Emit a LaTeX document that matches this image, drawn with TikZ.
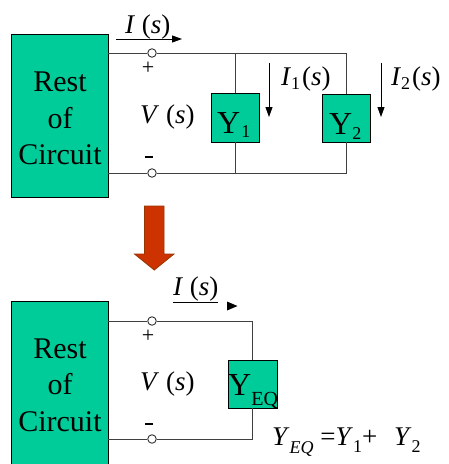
\documentclass[tikz,border=0pt]{standalone}
\usepackage{fontspec}
\setmainfont{Liberation Serif}
\usetikzlibrary{arrows.meta, shapes, positioning}

\definecolor{boxgreen}{HTML}{00CC99}
\definecolor{bigred}{HTML}{CC3300}
\definecolor{bigredline}{HTML}{993300}

\newcommand{\subidx}[2][4pt]{\raisebox{-#1}{\fontsize{18}{18}\selectfont #2}}

\tikzset{
  block/.style={draw, fill=boxgreen, line width=0.9pt, inner sep=0pt},
  wire/.style={draw=black!75, line width=0.9pt},
  terminal/.style={circle, draw=black!80, fill=white, line width=0.9pt, inner sep=0pt, minimum size=8.5pt},
  currarrow/.style={-{Triangle[length=10pt,width=7pt]}, line width=0.9pt},
  restfont/.style={font=\fontsize{30}{36.5}\selectfont, align=center, inner sep=0pt},
  labelfont/.style={font=\fontsize{27}{30}\selectfont, anchor=base west, inner sep=0pt},
  boxfont/.style={font=\fontsize{32}{34}\selectfont, anchor=base west, inner sep=0pt},
  signfont/.style={font=\fontsize{22}{22}\selectfont, inner sep=0pt}
}

\begin{document}
\begin{tikzpicture}[x=1pt, y=-1pt]
            \useasboundingbox (0,0) rectangle (448,464);

            % Top circuit: nodes
            \node (rest1) [block, minimum width=97pt, minimum height=163pt] at (59.5,115.5) {};
            \node (rest1text) [restfont] at (60,118.5) {Rest\\of\\Circuit};
            \node (tp1) [terminal] at (152,53) {};
            \node (tm1) [terminal] at (152,173) {};
            \node (y1) [block, minimum width=48pt, minimum height=49pt] at (235,117.5) {};
            \node (y2) [block, minimum width=48pt, minimum height=48pt] at (346.5,118) {};
            \node (y1text) [boxfont] at (217,133) {Y\hspace{1pt}\subidx{1}};
            \node (y2text) [boxfont] at (329,134) {Y\subidx[5pt]{2}};
            \node (plus1) [signfont] at (148,68) {+};
            \node (minus1) [signfont] at (149,157) {\rule{8pt}{2pt}};
            \node (v1) [labelfont] at (140,123) {\textit{V} (\textit{s})};
            \node (i0) [labelfont] at (125,33) {\textit{I} (\textit{s})};
            \node (i1) [labelfont] at (281,85) {\textit{I}\subidx{1}\hspace{2pt}(\textit{s})};
            \node (i2) [labelfont] at (391,85) {\textit{I}\subidx{2}\hspace{2pt}(\textit{s})};

            % Current arrows
            \coordinate (i0start) at (116,39);
            \coordinate (i0end) at (182,39);
            \coordinate (i1start) at (269,63);
            \coordinate (i1end) at (269,117);
            \coordinate (i2start) at (381,63);
            \coordinate (i2end) at (381,117);
            \draw[currarrow] (i0start) -- (i0end);
            \draw[currarrow] (i1start) -- (i1end);
            \draw[currarrow] (i2start) -- (i2end);

            % Top circuit: wires
            \draw[wire] (rest1.east |- tp1) -- (tp1) -- (tp1 -| y2) -- (y2.north);
            \draw[wire] (tp1 -| y1) -- (y1.north);
            \draw[wire] (rest1.east |- tm1) -- (tm1) -- (tm1 -| y2) -- (y2.south);
            \draw[wire] (tm1 -| y1) -- (y1.south);

            % Big arrow
            \draw[fill=bigred, draw=bigredline, line width=0.8pt]
              (144.5,206) -- (164,206) -- (164,254) -- (174,254) -- (154.25,270)
              -- (134.5,254) -- (144.5,254) -- cycle;

            % Bottom circuit: nodes
            \node (rest2) [block, minimum width=97pt, minimum height=175pt] at (59.5,388.5) {};
            \node (rest2text) [restfont] at (60,385) {Rest\\of\\Circuit};
            \node (tp2) [terminal] at (152,321) {};
            \node (tm2) [terminal] at (152,439) {};
            \node (yeq) [block, minimum width=49pt, minimum height=48pt] at (252.5,384) {};
            \node (yeqtext) [boxfont] at (228,395) {Y\subidx[10pt]{\fontsize{20}{20}\selectfont EQ}};
            \node (plus2) [signfont] at (148,336) {+};
            \node (minus2) [signfont] at (149,424) {\rule{8pt}{2pt}};
            \node (v2) [labelfont] at (140,390) {\textit{V} (\textit{s})};
            \node (iq) [labelfont] at (173,295) {\underline{\textit{I} (\textit{s})}};
            \node (eq) [labelfont] at (272,445)
              {\textit{Y}\subidx[8pt]{\textit{EQ}} =\textit{Y}\subidx[7pt]{1}+\hspace{17pt}\textit{Y}\subidx[7pt]{2}};

            % Bottom circuit: wires
            \draw[wire] (rest2.east |- tp2) -- (tp2) -- (tp2 -| yeq) -- (yeq.north);
            \draw[wire] (rest2.east |- tm2) -- (tm2) -- (tm2 -| yeq) -- (yeq.south);

            % Lone arrow head
            \fill (227,301.5) -- (237.5,306) -- (227,310.5) -- cycle;
        \end{tikzpicture}
\end{document}
